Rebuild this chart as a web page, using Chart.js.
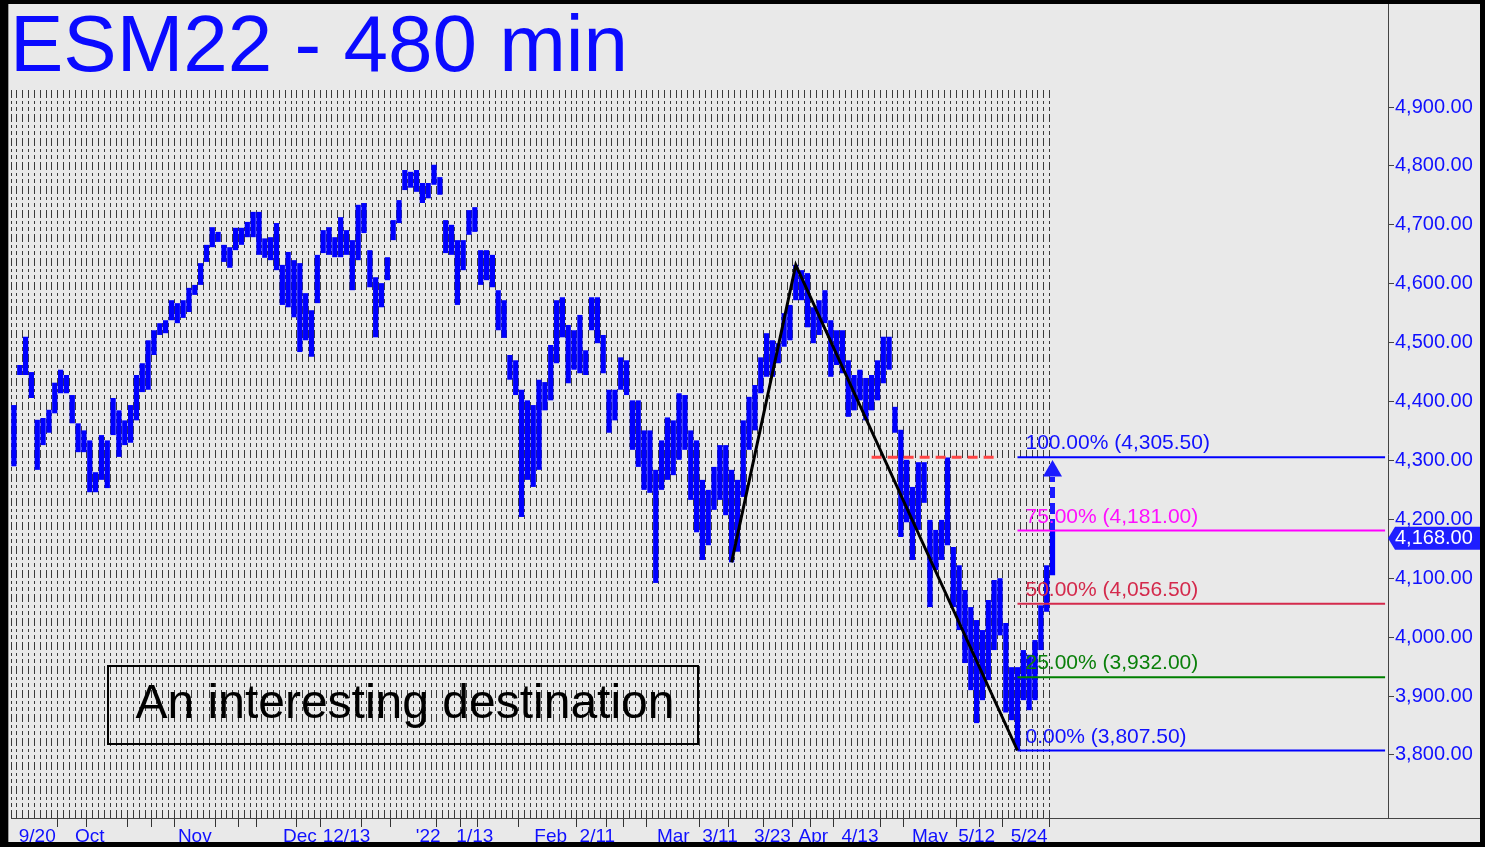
<!DOCTYPE html>
<html><head><meta charset="utf-8">
<script src="https://cdn.jsdelivr.net/npm/chart.js@4.4.1/dist/chart.umd.min.js"></script>
<style>
html,body{margin:0;padding:0;background:#000;}
#wrap{position:relative;width:1485px;height:847px;overflow:hidden;}
canvas{display:block;background:#e9e9e9;}
#frame{position:absolute;left:0;top:0;width:1485px;height:847px;box-sizing:border-box;border-style:solid;border-color:#000;border-width:4px 5px 5px 8px;box-shadow:inset 1px 0 0 #9a9a9a;pointer-events:none;}
</style></head><body>
<div id="wrap"><canvas id="c" width="1485" height="847"></canvas><div id="frame"></div></div>
<script>
// ---- data (one slot per trading day, 9/20/21 .. 5/27/22) ----
const barHigh = [4394,4462,4510,4450,4369,4372,4386,4432,4454,4445,
4411,4363,4351,4334,4280,4343,4334,4406,4385,4368,
4394,4445,4465,4504,4521,4533,4538,4572,4567,4572,
4593,4598,4635,4666,4696,4688,4666,4662,4695,4695,
4705,4722,4722,4677,4679,4703,4632,4654,4640,4635,
4584,4555,4649,4691,4696,4679,4713,4691,4674,4734,
4737,4657,4611,4601,4645,4708,4742,4793,4790,4793,
4771,4771,4802,4781,4708,4700,4674,4674,4725,4730,
4657,4657,4649,4589,4572,4479,4470,4420,4402,4394,
4437,4433,4496,4572,4577,4530,4521,4547,4487,4577,
4577,4513,4420,4420,4475,4470,4402,4402,4351,4351,
4284,4334,4373,4368,4414,4411,4351,4334,4267,4250,
4289,4326,4326,4284,4267,4368,4408,4428,4475,4516,
4504,4499,4550,4564,4632,4623,4618,4560,4572,4589,
4538,4521,4521,4470,4445,4454,4440,4445,4470,4510,
4510,4391,4352,4301,4255,4297,4297,4199,4182,4199,
4305,4153,4122,4080,4051,4029,4012,4063,4097,4100,
4024,3949,3949,3978,3970,3995,4054,4122,4182];
const barLow = [4290,4445,4445,4406,4284,4326,4347,4380,4414,4414,
4363,4314,4314,4246,4246,4267,4253,4343,4306,4326,
4330,4368,4416,4420,4479,4513,4516,4538,4533,4542,
4552,4581,4598,4637,4662,4671,4637,4627,4657,4666,
4679,4679,4649,4644,4640,4623,4564,4560,4543,4484,
4504,4476,4567,4652,4649,4645,4645,4649,4589,4640,
4686,4594,4509,4560,4606,4674,4703,4759,4763,4756,
4737,4745,4768,4751,4652,4649,4564,4623,4683,4688,
4598,4606,4594,4521,4508,4437,4411,4204,4267,4255,
4284,4385,4402,4465,4509,4431,4454,4448,4445,4521,
4499,4448,4347,4368,4420,4411,4318,4289,4250,4245,
4092,4250,4267,4275,4301,4318,4233,4178,4131,4156,
4216,4233,4207,4127,4145,4238,4318,4351,4414,4442,
4442,4465,4493,4504,4572,4572,4526,4499,4513,4533,
4442,4462,4448,4374,4385,4402,4368,4385,4402,4431,
4454,4347,4170,4195,4131,4182,4228,4051,4114,4131,
4156,4051,4012,3956,3910,3854,3893,3927,3978,4003,
3872,3859,3808,3893,3876,3893,3978,4043,4105];
const lastClose = 4168;
const slotCount = 236;

const yTicks = [3800,3900,4000,4100,4200,4300,4400,4500,4600,4700,4800,4900];
const xLabelIdx  = [4,13,31,49,57,71,79,92,100,113,121,130,137,145,157,165,174];
const xLabelText = ['9/20','Oct','Nov','Dec','12/13',"'22",'1/13','Feb','2/11','Mar','3/11','3/23','Apr','4/13','May','5/12','5/24'];
const xTickMarks = [8,13,20,24,28,35,39,42,49,53,60,65,73,77,80,87,97,102,105,109,118,123,129,134,137,141,149,153,162,166,170,178];

const fibPct = [100,75,50,25,0];
const fibVal = [4305.5,4181,4056.5,3932,3807.5];
const fibStart = 172, fibEnd = 235;

const swingIdx = [123,134,172];
const swingVal = [4127,4632,3807.5];
const resistIdx = [147,168];
const resistVal = 4305.5;
const arrowIdx = 178, arrowFrom = 4182, arrowTo = 4272, arrowHead = 4282;
const noteText = 'An interesting destination';
const titleText = 'ESM22 - 480 min';

// ---- build ----
const fibColors = ['#0000ff','#ff00ff','#d42a4c','#008000','#0000ff'];
const fibTextColors = ['#1010ff','#ff10ff','#d42a4c','#0a800a','#1010ff'];
const labels = Array.from({length: slotCount}, (_, i) => i);
const fmt = v => v.toLocaleString('en-US',{minimumFractionDigits:2, maximumFractionDigits:2});

const datasets = [];
fibVal.forEach((v, k) => datasets.push({
  type:'line', data:[{x:fibStart,y:v},{x:fibEnd,y:v}], borderColor:fibColors[k],
  borderWidth:2, pointRadius:0, order:1
}));
datasets.push({type:'line', data: resistIdx.map(i => ({x:i, y:resistVal})),
  borderColor:'#ff4444', borderWidth:3, borderDash:[10,6], pointRadius:0, order:1});
datasets.push({type:'line', data: swingIdx.map((i,k) => ({x:i, y:swingVal[k]})),
  borderColor:'#000', borderWidth:3, pointRadius:0, order:0});
datasets.push({type:'line', data:[{x:arrowIdx,y:arrowFrom},{x:arrowIdx,y:arrowTo}],
  borderColor:'#1a1aff', borderWidth:5, borderDash:[11,5], pointRadius:0, order:0});
datasets.push({type:'line', data:[{x:arrowIdx,y:arrowHead}], showLine:false,
  pointStyle:'triangle', pointRadius:11, pointBackgroundColor:'#1a1aff', pointBorderWidth:0, order:0});
datasets.push({type:'bar', data: barLow.map((l,i) => [l, barHigh[i]]),
  backgroundColor:'#0000ff', borderWidth:0, barPercentage:0.9, categoryPercentage:1, order:10});

const overlay = {
  id:'overlay',
  afterDraw(chart){
    const {ctx, chartArea:a, scales:{x, y}} = chart;
    ctx.save();
    // axis line extensions
    ctx.strokeStyle = '#444'; ctx.lineWidth = 1;
    ctx.beginPath();
    ctx.moveTo(Math.round(a.right)+0.5, 0); ctx.lineTo(Math.round(a.right)+0.5, a.top);
    ctx.moveTo(a.right, Math.round(a.bottom)+0.5); ctx.lineTo(chart.width, Math.round(a.bottom)+0.5);
    ctx.stroke();
    // fib labels
    ctx.font = '21px "Liberation Sans", Arial, sans-serif';
    ctx.textAlign = 'left'; ctx.textBaseline = 'alphabetic';
    const fx = x.getPixelForValue(fibStart) + 8;
    fibVal.forEach((v,k) => {
      ctx.fillStyle = fibTextColors[k];
      ctx.fillText(fibPct[k].toFixed(2) + '% (' + fmt(v) + ')', fx, y.getPixelForValue(v) - 8);
    });
    // last price tag
    const ty = y.getPixelForValue(lastClose), tx = a.right;
    ctx.fillStyle = '#1e1eff';
    ctx.beginPath();
    ctx.moveTo(tx, ty); ctx.lineTo(tx+7, ty-11.5); ctx.lineTo(chart.width, ty-11.5);
    ctx.lineTo(chart.width, ty+11.5); ctx.lineTo(tx+7, ty+11.5); ctx.closePath(); ctx.fill();
    ctx.fillStyle = '#fff'; ctx.font = '20px "Liberation Sans", Arial, sans-serif';
    ctx.textBaseline = 'middle';
    ctx.fillText(fmt(lastClose), tx + 7, ty);
    // note box
    ctx.strokeStyle = '#000'; ctx.lineWidth = 2;
    ctx.strokeRect(108, 666, 590, 78);
    ctx.fillStyle = '#000'; ctx.font = '48px "Liberation Sans", Arial, sans-serif';
    ctx.textAlign = 'center'; ctx.textBaseline = 'alphabetic';
    ctx.fillText(noteText, 405, 718);
    ctx.restore();
  }
};

Chart.defaults.font.family = '"Liberation Sans", Arial, sans-serif';
new Chart(document.getElementById('c'), {
  type:'bar',
  data:{labels, datasets},
  options:{
    responsive:false, animation:false, events:[],
    layout:{padding:{left:10, right:0, top:0, bottom:0}},
    plugins:{
      legend:{display:false}, tooltip:{enabled:false},
      title:{display:true, text:titleText, align:'start', color:'#0a0aff',
        font:{size:80, lineHeight:1, weight:'normal'}, padding:{top:9, bottom:1}}
    },
    scales:{
      x:{
        type:'category', offset:true,
        afterFit: s => { s.height = 29; },
        grid:{offset:true, lineWidth:1, tickLength:9, tickWidth:1,
          color: c => c.index <= 178 ? '#3a3a3a' : 'rgba(0,0,0,0)',
          tickColor: c => xTickMarks.includes(c.index) ? '#333' : 'rgba(0,0,0,0)'},
        border:{display:true, color:'#444', width:1, dash:[8,3,3,3,4,3]},
        ticks:{autoSkip:false, maxRotation:0, minRotation:0, padding:-2, color:'#1010ff',
          font:{size:19},
          callback:(v, i) => { const k = xLabelIdx.indexOf(i); return k >= 0 ? xLabelText[k] : ''; }}
      },
      y:{
        type:'linear', position:'right', min:3692.9, max:4928.9,
        afterFit: s => { s.width = 97; },
        afterBuildTicks: s => { s.ticks = yTicks.map(v => ({value:v})); },
        grid:{drawOnChartArea:false, tickLength:6, color:'#444'},
        border:{display:true, color:'#444', width:1},
        ticks:{padding:1, color:'#1010ff', font:{size:20}, callback: v => fmt(v)}
      }
    }
  },
  plugins:[overlay]
});
</script>
</body></html>
